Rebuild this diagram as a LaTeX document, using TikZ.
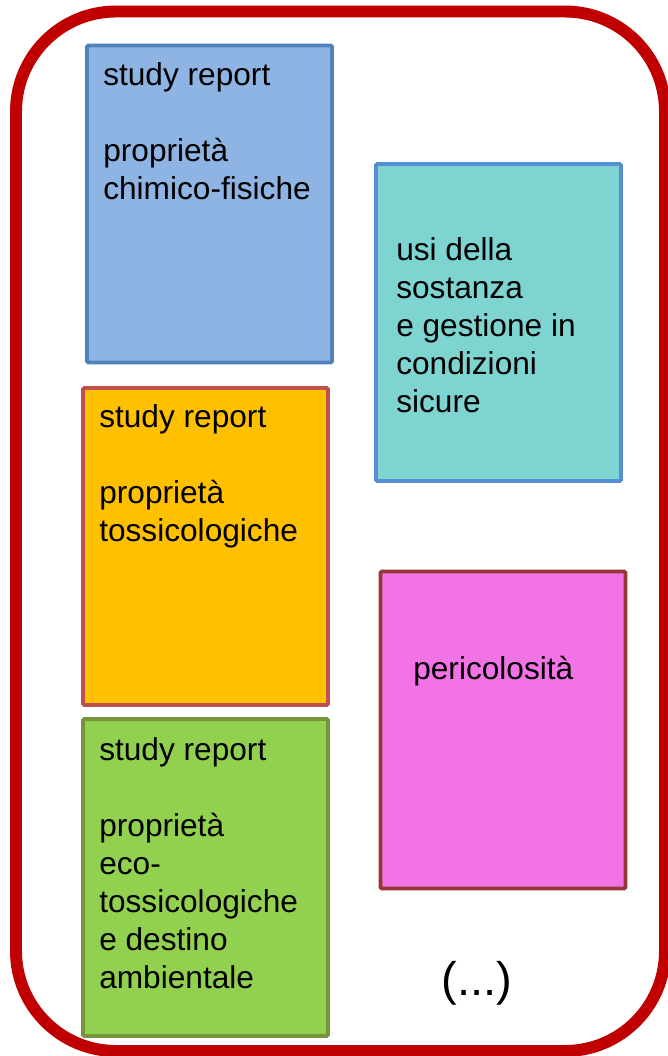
\documentclass[tikz,border=0pt]{standalone}
\usepackage{fontspec}
\setmainfont{Liberation Sans}
\definecolor{frame}{HTML}{C00000}
\definecolor{chimfill}{HTML}{8EB4E3}
\definecolor{chimline}{HTML}{4F81BD}
\definecolor{usifill}{HTML}{7ED4D0}
\definecolor{usiline}{HTML}{558ED5}
\definecolor{tossfill}{HTML}{FFC000}
\definecolor{tossline}{HTML}{C0504D}
\definecolor{ecofill}{HTML}{92D050}
\definecolor{ecoline}{HTML}{77933C}
\definecolor{perfill}{HTML}{F273E6}
\definecolor{perline}{HTML}{953735}
\begin{document}
\begin{tikzpicture}[x=0.025cm,y=-0.025cm,
 card/.style={rectangle,line width=2.8pt,rounded corners=1pt,inner sep=0pt,
  minimum width=245*0.025cm,minimum height=317*0.025cm},
 txt/.style={anchor=north west,align=left,inner sep=0pt,font=\fontsize{22.5}{27}\selectfont}]
 \useasboundingbox (0,0) rectangle (667,1056);
 \draw[frame,line width=8.5pt,rounded corners=2.5cm] (16,11.5) rectangle (665,1051);

 \node (chim) at (209.5,204) [card,fill=chimfill,draw=chimline] {};
 \node (usi) at (498.5,322.5) [card,fill=usifill,draw=usiline] {};
 \node (toss) at (205.5,546.5) [card,fill=tossfill,draw=tossline] {};
 \node (eco) at (205.5,877.5) [card,fill=ecofill,draw=ecoline] {};
 \node (peri) at (503,730) [card,fill=perfill,draw=perline] {};

 \node (chimtxt) at (103,62) [txt] {study report\\[27pt]proprietà\\chimico-fisiche};
 \node (usitxt) at (396,237) [txt] {usi della\\sostanza\\e gestione in\\condizioni\\sicure};
 \node (tosstxt) at (99,404) [txt] {study report\\[27pt]proprietà\\tossicologiche};
 \node (ecotxt) at (99,737) [txt] {study report\\[27pt]proprietà\\eco-\\tossicologiche\\e destino\\ambientale};
 \node (peritxt) at (413,656) [txt] {pericolosità};
 \node (etc) at (477,983.5) [inner sep=0pt,font=\fontsize{33.5}{40}\selectfont] {(...)};
\end{tikzpicture}
\end{document}
